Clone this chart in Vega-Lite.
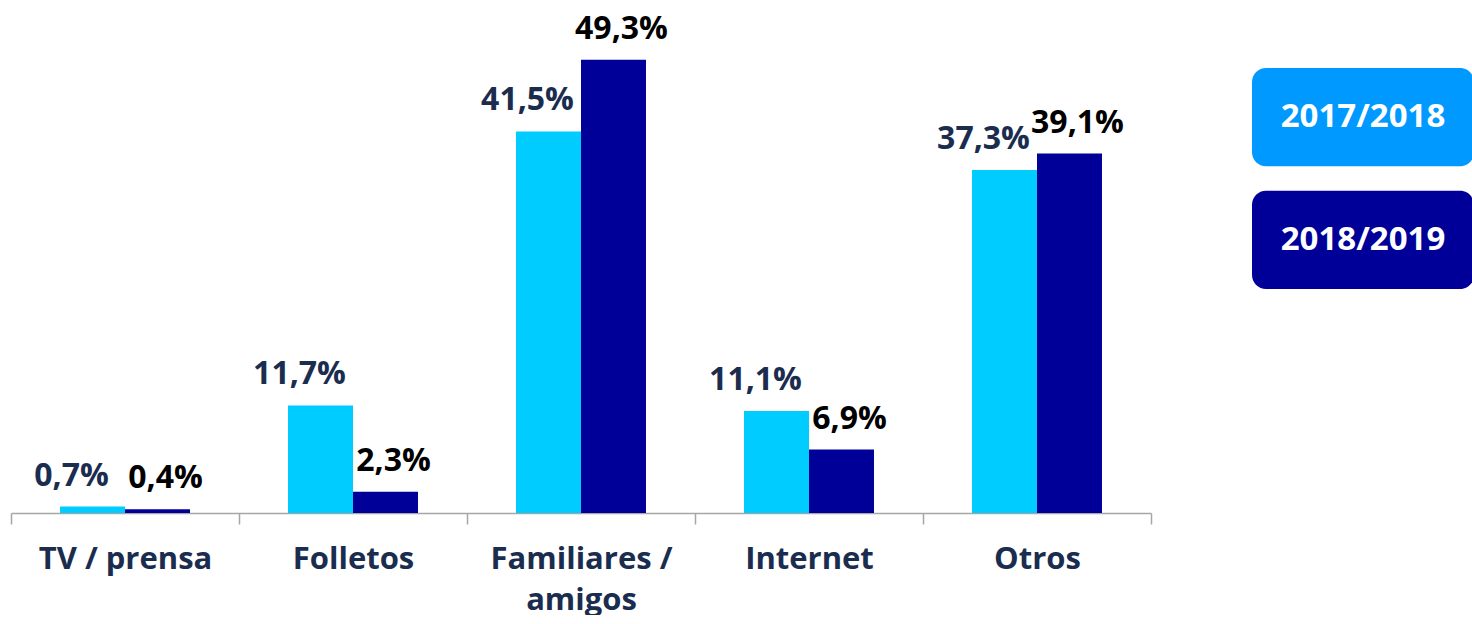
{
  "$schema": "https://vega.github.io/schema/vega-lite/v6.json",
  "padding": {"left": 10, "top": 0, "right": 0, "bottom": 0},
  "background": "white",
  "config": {
    "view": {"stroke": null},
    "font": "Open Sans",
    "locale": {"number": {"decimal": ",", "thousands": ".", "grouping": [3], "currency": ["", " €"]}}
  },
  "spacing": 100,
  "resolve": {"scale": {"color": "independent", "y": "independent"}},
  "hconcat": [
    {
      "width": 1140,
      "height": 513,
      "data": {"values": [
        {"category": "TV / prensa", "season": "2017/2018", "value": 0.007},
        {"category": "TV / prensa", "season": "2018/2019", "value": 0.004},
        {"category": "Folletos", "season": "2017/2018", "value": 0.117},
        {"category": "Folletos", "season": "2018/2019", "value": 0.023},
        {"category": "Familiares / amigos", "season": "2017/2018", "value": 0.415},
        {"category": "Familiares / amigos", "season": "2018/2019", "value": 0.493},
        {"category": "Internet", "season": "2017/2018", "value": 0.111},
        {"category": "Internet", "season": "2018/2019", "value": 0.069},
        {"category": "Otros", "season": "2017/2018", "value": 0.373},
        {"category": "Otros", "season": "2018/2019", "value": 0.391}
      ]},
      "encoding": {
        "x": {
          "field": "category", "type": "nominal", "sort": null,
          "scale": {"paddingInner": 0, "paddingOuter": 0},
          "axis": {
            "title": null, "labelAngle": 0, "domainColor": "#a6a6a6", "tickColor": "#a6a6a6",
            "tickSize": 11, "tickBand": "extent", "domainWidth": 1.5, "tickWidth": 1.5,
            "labelFont": "Open Sans", "labelFontSize": 31, "labelFontWeight": "bold", "labelColor": "#1b2d4f",
            "labelPadding": 20, "labelLineHeight": 41, "labelLimit": 400,
            "labelExpr": "datum.value == 'Familiares / amigos' ? ['Familiares /', 'amigos'] : datum.value"
          }
        },
        "xOffset": {"field": "season", "type": "nominal", "sort": null, "scale": {"paddingInner": 0, "paddingOuter": 0.754}},
        "y": {"field": "value", "type": "quantitative", "scale": {"domain": [0, 0.558]}, "axis": null}
      },
      "layer": [
        {
          "mark": {"type": "bar"},
          "encoding": {
            "color": {"field": "season", "type": "nominal", "scale": {"range": ["#00CCFF", "#000099"]}, "legend": null}
          }
        },
        {
          "transform": [{"filter": "datum.season == '2017/2018'"}],
          "mark": {"type": "text", "baseline": "alphabetic", "dy": -21, "dx": -21, "fontSize": 32, "fontWeight": "bold", "color": "#1b2d4f"},
          "encoding": {"text": {"field": "value", "type": "quantitative", "format": ".1%"}}
        },
        {
          "transform": [{"filter": "datum.season == '2018/2019'"}],
          "mark": {"type": "text", "baseline": "alphabetic", "dy": -21, "dx": 8, "fontSize": 32, "fontWeight": "bold", "color": "#000000"},
          "encoding": {"text": {"field": "value", "type": "quantitative", "format": ".1%"}}
        }
      ]
    },
    {
      "width": 222,
      "height": 513,
      "data": {"values": [
        {"season": "2017/2018"},
        {"season": "2018/2019"}
      ]},
      "encoding": {
        "y": {"field": "season", "type": "nominal", "sort": null, "scale": {"range": [68, 289], "paddingInner": 0.2, "paddingOuter": 0}, "axis": null}
      },
      "layer": [
        {
          "mark": {"type": "bar", "cornerRadius": 14},
          "encoding": {
            "color": {"field": "season", "type": "nominal", "scale": {"range": ["#0099FF", "#000099"]}, "legend": null}
          }
        },
        {
          "mark": {"type": "text", "fontSize": 33, "fontWeight": "bold", "color": "white", "align": "center", "baseline": "middle"},
          "encoding": {"text": {"field": "season", "type": "nominal"}}
        }
      ]
    }
  ]
}
